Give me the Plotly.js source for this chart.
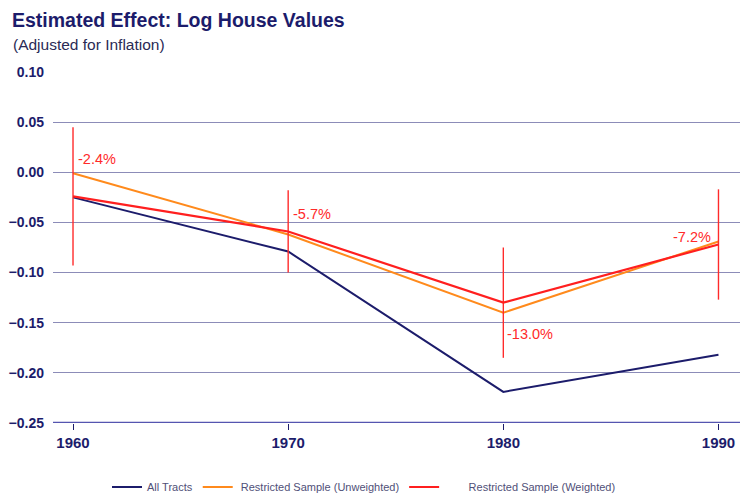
<!DOCTYPE html>
<html>
<head>
<meta charset="utf-8">
<script src="https://cdn.plot.ly/plotly-3.0.1.min.js"></script>
<style>html,body{margin:0;padding:0;background:#fff;}#chart{width:743px;height:497px;}</style>
</head>
<body>
<div id="chart"></div>
<script>
const years = [1960, 1970, 1980, 1990];
const allTracts = [-0.025, -0.079, -0.219, -0.182];
const unweighted = [-0.001, -0.062, -0.140, -0.069];
const weighted = [-0.024, -0.059, -0.130, -0.072];
const weightedErr = [0.069, 0.041, 0.055, 0.055];
const labels = ["-2.4%", "-5.7%", "-13.0%", "-7.2%"];
const labelY = [0.013, -0.042, -0.161, -0.065];
const labelAnchor = ["left", "left", "left", "right"];
const labelShift = [3, 3, 2, -5];
const yTicks = [0.10, 0.05, 0.00, -0.05, -0.10, -0.15, -0.20, -0.25];
const xTickText = ["1960", "1970", "1980", "1990"];
const seriesNames = ["All Tracts", "Restricted Sample (Unweighted)", "Restricted Sample (Weighted)"];

const navy = "#1c1c6b";
const pad = n => "\u00a0".repeat(n);
const traces = [
  {x: years, y: allTracts, name: seriesNames[0], mode: "lines", line: {color: navy, width: 2}},
  {x: years, y: unweighted, name: pad(1) + seriesNames[1], mode: "lines", line: {color: "#ff8a1c", width: 2}},
  {x: years, y: weighted, name: pad(8) + seriesNames[2], mode: "lines", line: {color: "#ff1f1f", width: 2.2},
   error_y: {type: "data", array: weightedErr, visible: true, color: "#ff2a2a", thickness: 1.4, width: 0}}
];

const annotations = years.map((yr, i) => ({
  x: yr, y: labelY[i], xref: "x", yref: "y", text: labels[i], showarrow: false,
  xanchor: labelAnchor[i], yanchor: "middle", xshift: labelShift[i],
  font: {family: "Liberation Sans, Arial, sans-serif", size: 14.5, color: "#ff2a2a"}
}));
annotations.push({
  xref: "paper", yref: "paper", x: -42/687, y: 1 + 27/350, xanchor: "left", yanchor: "middle",
  text: "(Adjusted for Inflation)", showarrow: false,
  font: {family: "Liberation Sans, Arial, sans-serif", size: 15.5, color: "#2a2a55"}
});

const layout = {
  width: 743, height: 497,
  margin: {l: 53, r: 3, t: 72, b: 74},
  paper_bgcolor: "#fff", plot_bgcolor: "#fff",
  title: {text: "<b>Estimated Effect: Log House Values</b>", x: 12/743, xanchor: "left", xref: "container",
    y: 1 - 20/497, yanchor: "middle", yref: "container",
    font: {family: "Liberation Sans, Arial, sans-serif", size: 19.5, color: navy}},
  showlegend: true,
  legend: {orientation: "h", x: 107/743, xanchor: "left", xref: "container", y: 1 - 487/497, yanchor: "middle", yref: "container",
    font: {family: "Liberation Sans, Arial, sans-serif", size: 11, color: "#505078"},
    tracegroupgap: 0, bgcolor: "rgba(0,0,0,0)"},
  xaxis: {range: [1959.07, 1991.0], tickvals: years, ticktext: xTickText, showgrid: false, zeroline: false,
    showline: false, ticks: "outside", ticklen: 6, tickcolor: navy, tickwidth: 1,
    tickfont: {family: "Liberation Sans, Arial, sans-serif", size: 15, color: navy, weight: "bold"}},
  yaxis: {range: [-0.25, 0.10], tickvals: yTicks, tickformat: ".2f", showgrid: true, gridcolor: "#8c8cb8", gridwidth: 1.2,
    zeroline: false, showline: false, ticks: "", ticklabelstandoff: 8,
    tickfont: {family: "Liberation Sans, Arial, sans-serif", size: 14, color: navy, weight: "bold"}},
  shapes: [{type: "line", xref: "paper", yref: "y", x0: 0, x1: 1, y0: -0.25, y1: -0.25, line: {color: "#5555b0", width: 2.5}}],
  annotations: annotations
};

Plotly.newPlot("chart", traces, layout, {displayModeBar: false, staticPlot: true});
</script>
</body>
</html>
